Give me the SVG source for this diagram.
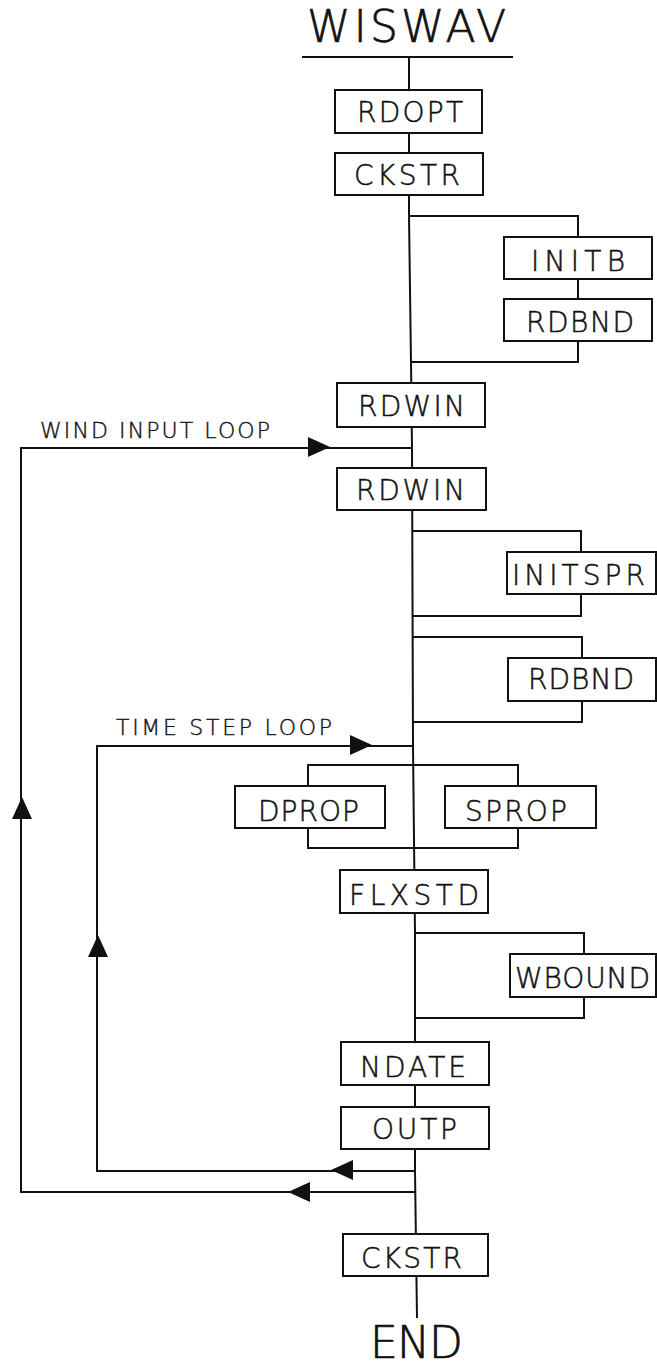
<svg xmlns="http://www.w3.org/2000/svg" xmlns:xlink="http://www.w3.org/1999/xlink" width="657" height="1368" viewBox="0 0 657 1368">
<style>
.bg{fill:#fff}
.box{fill:#fff;stroke:#111;stroke-width:2}
.ln{fill:none;stroke:#111;stroke-width:2;stroke-linejoin:miter}
.t{font-family:"DejaVu Sans ExtraLight","DejaVu Sans","Liberation Sans",sans-serif;font-weight:200;fill:#111;stroke:#111;stroke-width:0.5}
.lb{font-size:28px}
.big{font-size:44px;stroke-width:0.7}
.sm{font-size:22px;stroke-width:0.4}
.ah{fill:#111}
</style>
<defs>
<path id="ah" d="M0,0 L-22,-10 L-22,10 Z"/>
</defs>
<rect class="bg" x="0" y="0" width="657" height="1368"/>

<g id="title">
<text class="t big" x="307" y="42" textLength="199" lengthAdjust="spacing">WISWAV</text>
<path class="ln" d="M302,57 H513"/>
</g>

<g id="connectors">
<path class="ln" d="M409,57 L409,216 L411,362 L412,448 L413,746 L415,933 L415,1171 L417,1318"/>
<path class="ln" d="M409,216 H578 V362 H411"/>
<path class="ln" d="M412,531 H581 V616 H412"/>
<path class="ln" d="M412,637 H582 V722 H413"/>
<path class="ln" d="M308,765 H518 V848 H308 Z"/>
<path class="ln" d="M415,933 H584 V1018 H415"/>
<path class="ln" d="M416,1192 H21 V448 H412"/>
<path class="ln" d="M415,1171 H97 V746 H413"/>
<use class="ah" xlink:href="#ah" transform="translate(330,447)"/>
<use class="ah" xlink:href="#ah" transform="translate(372,745)"/>
<use class="ah" xlink:href="#ah" transform="translate(22,797) rotate(-90)"/>
<use class="ah" xlink:href="#ah" transform="translate(98,935) rotate(-90)"/>
<use class="ah" xlink:href="#ah" transform="translate(331,1170) rotate(180)"/>
<use class="ah" xlink:href="#ah" transform="translate(288,1192) rotate(180)"/>
<text class="t sm" x="40" y="438" textLength="230" lengthAdjust="spacing">WIND INPUT LOOP</text>
<text class="t sm" x="116" y="735" textLength="216" lengthAdjust="spacing">TIME STEP LOOP</text>
</g>

<g id="n-rdopt"><rect class="box" x="335" y="90" width="147" height="43"/><text class="t lb" x="357" y="122" textLength="106" lengthAdjust="spacing">RDOPT</text></g>
<g id="n-ckstr1"><rect class="box" x="335" y="153" width="148" height="42"/><text class="t lb" x="354" y="185" textLength="106" lengthAdjust="spacing">CKSTR</text></g>
<g id="n-initb"><rect class="box" x="504" y="237" width="148" height="42"/><text class="t lb" x="531" y="271" textLength="94" lengthAdjust="spacing">INITB</text></g>
<g id="n-rdbnd1"><rect class="box" x="504" y="299" width="148" height="42"/><text class="t lb" x="526" y="332" textLength="108" lengthAdjust="spacing">RDBND</text></g>
<g id="n-rdwin1"><rect class="box" x="337" y="383" width="148" height="44"/><text class="t lb" x="358" y="416" textLength="107" lengthAdjust="spacing">RDWIN</text></g>
<g id="n-rdwin2"><rect class="box" x="337" y="468" width="149" height="42"/><text class="t lb" x="356" y="500" textLength="109" lengthAdjust="spacing">RDWIN</text></g>
<g id="n-initspr"><rect class="box" x="507" y="552" width="149" height="42"/><text class="t lb" x="512" y="585" textLength="133" lengthAdjust="spacing">INITSPR</text></g>
<g id="n-rdbnd2"><rect class="box" x="508" y="658" width="148" height="43"/><text class="t lb" x="528" y="689" textLength="106" lengthAdjust="spacing">RDBND</text></g>
<g id="n-dprop"><rect class="box" x="235" y="786" width="150" height="42"/><text class="t lb" x="258" y="821" textLength="101" lengthAdjust="spacing">DPROP</text></g>
<g id="n-sprop"><rect class="box" x="445" y="786" width="151" height="42"/><text class="t lb" x="465" y="821" textLength="102" lengthAdjust="spacing">SPROP</text></g>
<g id="n-flxstd"><rect class="box" x="340" y="870" width="148" height="43"/><text class="t lb" x="349" y="905" textLength="130" lengthAdjust="spacing">FLXSTD</text></g>
<g id="n-wbound"><rect class="box" x="510" y="954" width="146" height="43"/><text class="t lb" x="515" y="988" textLength="135" lengthAdjust="spacing">WBOUND</text></g>
<g id="n-ndate"><rect class="box" x="341" y="1042" width="148" height="43"/><text class="t lb" x="360" y="1077" textLength="106" lengthAdjust="spacing">NDATE</text></g>
<g id="n-outp"><rect class="box" x="341" y="1107" width="148" height="42"/><text class="t lb" x="372" y="1139" textLength="85" lengthAdjust="spacing">OUTP</text></g>
<g id="n-ckstr2"><rect class="box" x="343" y="1234" width="145" height="42"/><text class="t lb" x="361" y="1268" textLength="101" lengthAdjust="spacing">CKSTR</text></g>

<g id="end">
<text class="t big" x="370" y="1358" font-size="43" textLength="93" lengthAdjust="spacing">END</text>
</g>
</svg>
